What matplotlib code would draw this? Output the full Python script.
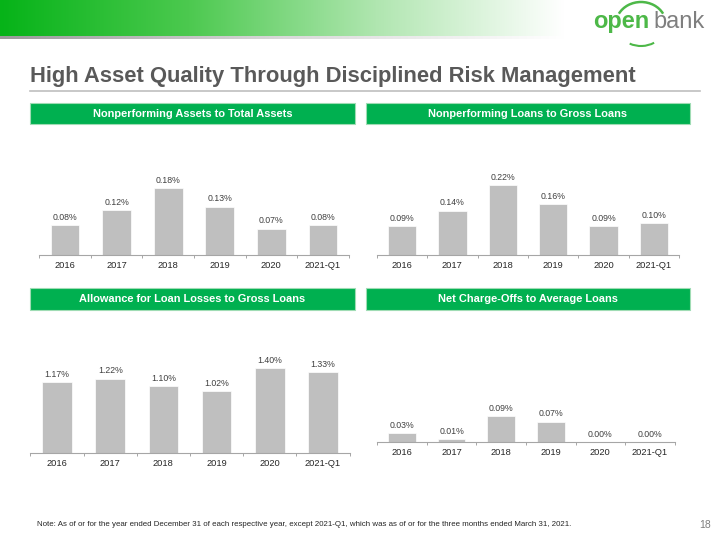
import numpy as np
import matplotlib
matplotlib.use('Agg')
import matplotlib.pyplot as plt
from matplotlib.patches import Rectangle, Arc
from matplotlib.colors import LinearSegmentedColormap

plt.rcParams['font.family'] = ['Liberation Sans', 'DejaVu Sans']

years = ['2016', '2017', '2018', '2019', '2020', '2021-Q1']
npa_to_assets = [0.08, 0.12, 0.18, 0.13, 0.07, 0.08]
npl_to_loans = [0.09, 0.14, 0.22, 0.16, 0.09, 0.10]
allowance_to_loans = [1.17, 1.22, 1.10, 1.02, 1.40, 1.33]
nco_to_avg_loans = [0.03, 0.01, 0.09, 0.07, 0.00, 0.00]

titles = ['Nonperforming Assets to Total Assets',
          'Nonperforming Loans to Gross Loans',
          'Allowance for Loan Losses to Gross Loans',
          'Net Charge-Offs to Average Loans']
series = [npa_to_assets, npl_to_loans, allowance_to_loans, nco_to_avg_loans]

W, H = 720, 540
GREEN = '#00B050'
BAR = '#BFBFBF'
DARK = '#404040'

# layout in pixels: header box (x0, y0, x1, y1), first bar center, spacing, baseline, px per 1%
panels = [
    ((30, 103, 355, 124), 65, 51.6, 255, 372),
    ((366, 103, 690, 124), 402, 50.4, 255, 317),
    ((30, 288, 355, 310), 57, 53.2, 453, 60.7),
    ((366, 288, 690, 310), 402, 49.6, 442, 289),
]

fig = plt.figure(figsize=(W / 100, H / 100), dpi=100)
fig.patch.set_facecolor('white')

bg = fig.add_axes([0, 0, 1, 1])
bg.set_xlim(0, W)
bg.set_ylim(H, 0)
bg.axis('off')

# green banner fading to white
grad = LinearSegmentedColormap.from_list('g', ['#06B318', '#4cc94f', '#b0e6b0', '#ffffff'])
bg.imshow(np.linspace(0, 1, 256)[None, :], cmap=grad, aspect='auto',
          extent=(0, 565, 36, 0), zorder=1)
shade = LinearSegmentedColormap.from_list('s', ['#9a9a9a', '#d9d9d9', '#ffffff'])
bg.imshow(np.linspace(0, 1, 256)[None, :], cmap=shade, aspect='auto',
          extent=(0, 565, 39, 36), zorder=1)

# logo
bg.text(593, 28, 'open', fontsize=17, color='#4DB848', fontweight='bold',
        va='baseline', ha='left', zorder=3)
bg.text(653, 28, 'bank', fontsize=17, color='#7F7F7F', va='baseline', ha='left', zorder=3)
bg.add_patch(Arc((641, 24), 50, 44, theta1=205, theta2=335, color='#4DB848', lw=1.8, zorder=3))
bg.add_patch(Arc((641, 24), 50, 44, theta1=55, theta2=120, color='#4DB848', lw=1.5, zorder=3))

# title
bg.text(30, 82, 'High Asset Quality Through Disciplined Risk Management', fontsize=15.8,
        fontweight='bold', color='#595959', va='baseline', ha='left')
bg.plot([30, 700], [90.5, 90.5], color='#BFBFBF', lw=1.2)

for (box, c0, sp, base, scale), title, vals in zip(panels, titles, series):
    x0, y0, x1, y1 = box
    bg.add_patch(Rectangle((x0, y0), x1 - x0, y1 - y0, facecolor=GREEN,
                           edgecolor='#9fdcb4', lw=0.8))
    bg.text((x0 + x1) / 2, (y0 + y1) / 2 + 0.5, title, color='white', fontsize=7.9,
            fontweight='bold', ha='center', va='center')

    left = c0 - 0.5 * sp
    height = 130
    ax = fig.add_axes([left / W, (H - base) / H, 6 * sp / W, height / H])
    ax.set_facecolor('none')
    x = np.arange(len(years))
    ax.bar(x, vals, width=0.56, color=BAR, edgecolor='white', linewidth=0.5)
    for xi, v in zip(x, vals):
        ax.annotate(f'{v:.2f}%', (xi, v), xytext=(0, 2.5), textcoords='offset points',
                    ha='center', va='bottom', fontsize=6.3, color=DARK)
    ax.set_xlim(-0.5, 5.5)
    ax.set_ylim(0, height / scale)
    ax.set_xticks(x)
    ax.set_xticklabels(years, fontsize=6.7, color='#262626')
    ax.set_xticks(np.arange(-0.5, 6.0, 1.0), minor=True)
    ax.tick_params(axis='x', which='major', length=0, pad=4.5)
    ax.tick_params(axis='x', which='minor', length=2.5, width=0.7, color='#A6A6A6', direction='out')
    ax.set_yticks([])
    for s in ['top', 'right', 'left']:
        ax.spines[s].set_visible(False)
    ax.spines['bottom'].set_color('#A6A6A6')
    ax.spines['bottom'].set_linewidth(0.8)

bg.text(37, 525, 'Note: As of or for the year ended December 31 of each respective year, except 2021-Q1, '
        'which was as of or for the three months ended March 31, 2021.',
        fontsize=5.7, color='#262626', va='center', ha='left')
bg.text(711, 525, '18', fontsize=7.5, color='#7F7F7F', va='center', ha='right')

fig.savefig('out.png', dpi=100)
